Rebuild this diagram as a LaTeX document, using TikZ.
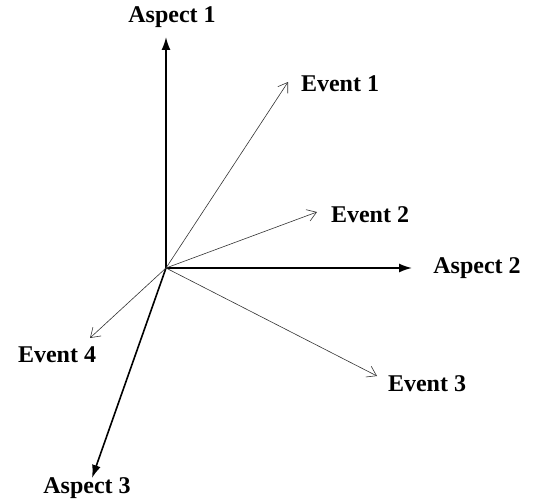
\documentclass[tikz,border=0pt]{standalone}
\usepackage{fontspec}
\setmainfont{Liberation Serif}
\usetikzlibrary{arrows.meta}
\begin{document}
\begin{tikzpicture}[x=1pt,y=-1pt,
  axis/.style={line width=1.6pt,-{Latex[length=13pt,width=9pt]}},
  ev/.style={line width=0.6pt,draw=black!80,-{Straight Barb[length=9pt,width=12pt]}},
  lab/.style={font=\fontsize{24}{27}\selectfont\bfseries,inner sep=0pt}]
\useasboundingbox (0,0) rectangle (543,500);
\coordinate (O) at (166,268);
\coordinate (a1) at (166,37);
\coordinate (a2) at (412,268);
\coordinate (a3) at (92,478);
\coordinate (e1) at (288,82);
\coordinate (e2) at (317,212);
\coordinate (e3) at (377,376);
\coordinate (e4) at (90,338);
\draw[axis] (O) -- (a1);
\draw[axis] (O) -- (a2);
\draw[axis] (O) -- (a3);
\draw[ev] (O) -- (e1);
\draw[ev] (O) -- (e2);
\draw[ev] (O) -- (e3);
\draw[ev] (O) -- (e4);
\node[lab] (la1) at (172,17) {Aspect 1};
\node[lab] (la2) at (477,268) {Aspect 2};
\node[lab] (la3) at (87,488) {Aspect 3};
\node[lab] (le1) at (340,84) {Event 1};
\node[lab] (le2) at (370,215) {Event 2};
\node[lab] (le3) at (427,384) {Event 3};
\node[lab] (le4) at (57,355) {Event 4};
\end{tikzpicture}
\end{document}
